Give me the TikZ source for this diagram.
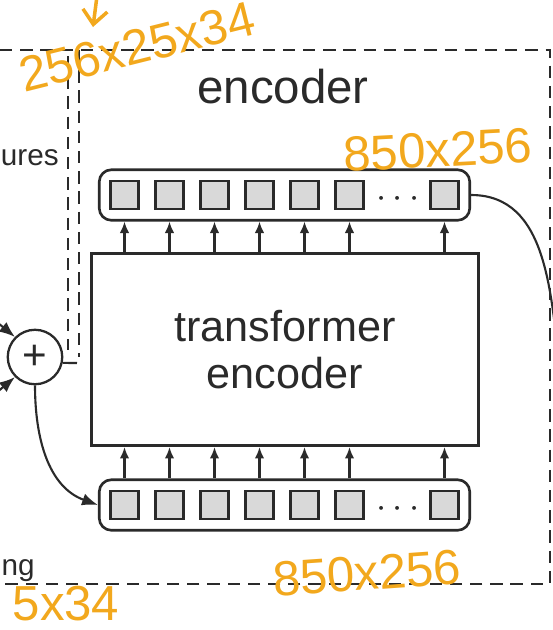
\documentclass[tikz,border=0pt]{standalone}
\usepackage{fontspec}
\setmainfont{Liberation Sans}
\usetikzlibrary{arrows.meta,fit}

\definecolor{inkgray}{HTML}{2A2A2A}
\definecolor{cellgray}{HTML}{D9D9D9}
\definecolor{handink}{HTML}{F2A81D}

\tikzset{
    cell/.style={draw=inkgray, line width=1.6pt, fill=cellgray, minimum size=16pt, inner sep=0pt},
    rowbox/.style={draw=inkgray, line width=1.5pt, rounded corners=7pt, inner sep=5.6pt},
    feed/.style={draw=inkgray, line width=1.2pt, -{Latex[length=6.5pt,width=5.5pt]}},
    bigfeed/.style={draw=inkgray, line width=1.2pt, -{Latex[length=9pt,width=7pt]}},
    bounds/.style={draw=inkgray, line width=1.5pt, dash pattern=on 7pt off 4.5pt},
    scribble/.style={text=handink, inner sep=0pt, font=\fontsize{28}{30}\selectfont}
}

\begin{document}
\begin{tikzpicture}[x=0.02cm, y=-0.02cm]
    \useasboundingbox (0,0) rectangle (553,630);
    \clip (0,0) rectangle (553,630);

    % dashed frames
    \draw[bounds] (0,50) -- (550,50) -- (550,584) -- (0,584);
    \draw[bounds] (79,50) -- (79,357);
    \draw[bounds] (68,56) -- (68,350);

    % labels cut by the left edge
    \node[anchor=base east, inner sep=0pt, text=inkgray, font=\fontsize{16.9}{18}\selectfont] (featlbl) at (59,165) {ures};
    \node[anchor=base east, inner sep=0pt, text=inkgray, font=\fontsize{16.9}{18}\selectfont] (poslbl) at (35,575) {ng};
    \node[anchor=base, inner sep=0pt, text=inkgray, font=\fontsize{27}{30}\selectfont] (enclbl) at (283,103) {encoder};

    % transformer encoder block
    \node[draw=inkgray, line width=1.5pt, minimum width=220pt, minimum height=109.5pt,
          align=center, text=inkgray, font=\fontsize{24.6}{27.2}\selectfont] (tenc) at (285,349.5) {transformer\\encoder};

    % output tokens (top row)
    \foreach \i/\x in {1/124.5,2/169.5,3/214.5,4/259.5,5/304.5,6/349.5,7/444.5}
        \node[cell] (t\i) at (\x,195) {};
    \node[rowbox, fit=(t1)(t7)] (toprow) {};
    \node[inner sep=0pt, text=inkgray, font=\fontsize{20}{20}\selectfont] (tdots) at (398,199) {$\cdots$};
    \foreach \i in {1,...,7} \draw[feed] (t\i |- tenc.north) -- (t\i |- toprow.south);

    % input tokens (bottom row)
    \foreach \i/\x in {1/124.5,2/169.5,3/214.5,4/259.5,5/304.5,6/349.5,7/444.5}
        \node[cell] (b\i) at (\x,505) {};
    \node[rowbox, fit=(b1)(b7)] (botrow) {};
    \node[inner sep=0pt, text=inkgray, font=\fontsize{20}{20}\selectfont] (bdots) at (398,509) {$\cdots$};
    \foreach \i in {1,...,7} \draw[feed] (b\i |- botrow.north) -- (b\i |- tenc.south);

    % sum of features and positional encoding
    \node[draw=inkgray, circle, line width=1.3pt, minimum size=31pt, inner sep=0pt,
          text=inkgray, font=\fontsize{24}{24}\selectfont] (sum) at (35,357) {+};
    \coordinate (inA) at (-30,300);
    \coordinate (inB) at (-30,415);
    \coordinate (sumout) at (77,363);
    \draw[bigfeed] (inA) -- (sum.135);
    \draw[bigfeed] (inB) -- (sum.225);
    \draw[inkgray, line width=1.2pt] (sum.-12) -- (sumout);
    \draw[bigfeed] (sum.south) to[out=-90, in=160] (botrow.west);

    % memory to decoder
    \coordinate (decin) at (560,370);
    \draw[inkgray, line width=1.2pt] (toprow.east) to[out=0, in=97] (decin);

    % handwritten shapes
    \draw[handink, line width=2pt, -{Straight Barb[length=8pt,width=14pt]}] (97,-4) -- (93,27);
    \node[scribble, rotate=14] (dimfeat) at (137,47) {256x25x34};
    \node[scribble, rotate=3] (dimtop) at (438,150) {850x256};
    \node[scribble, rotate=4] (dimbot) at (367,573) {850x256};
    \node[scribble] (dimpos) at (66,604) {5x34};
\end{tikzpicture}
\end{document}
